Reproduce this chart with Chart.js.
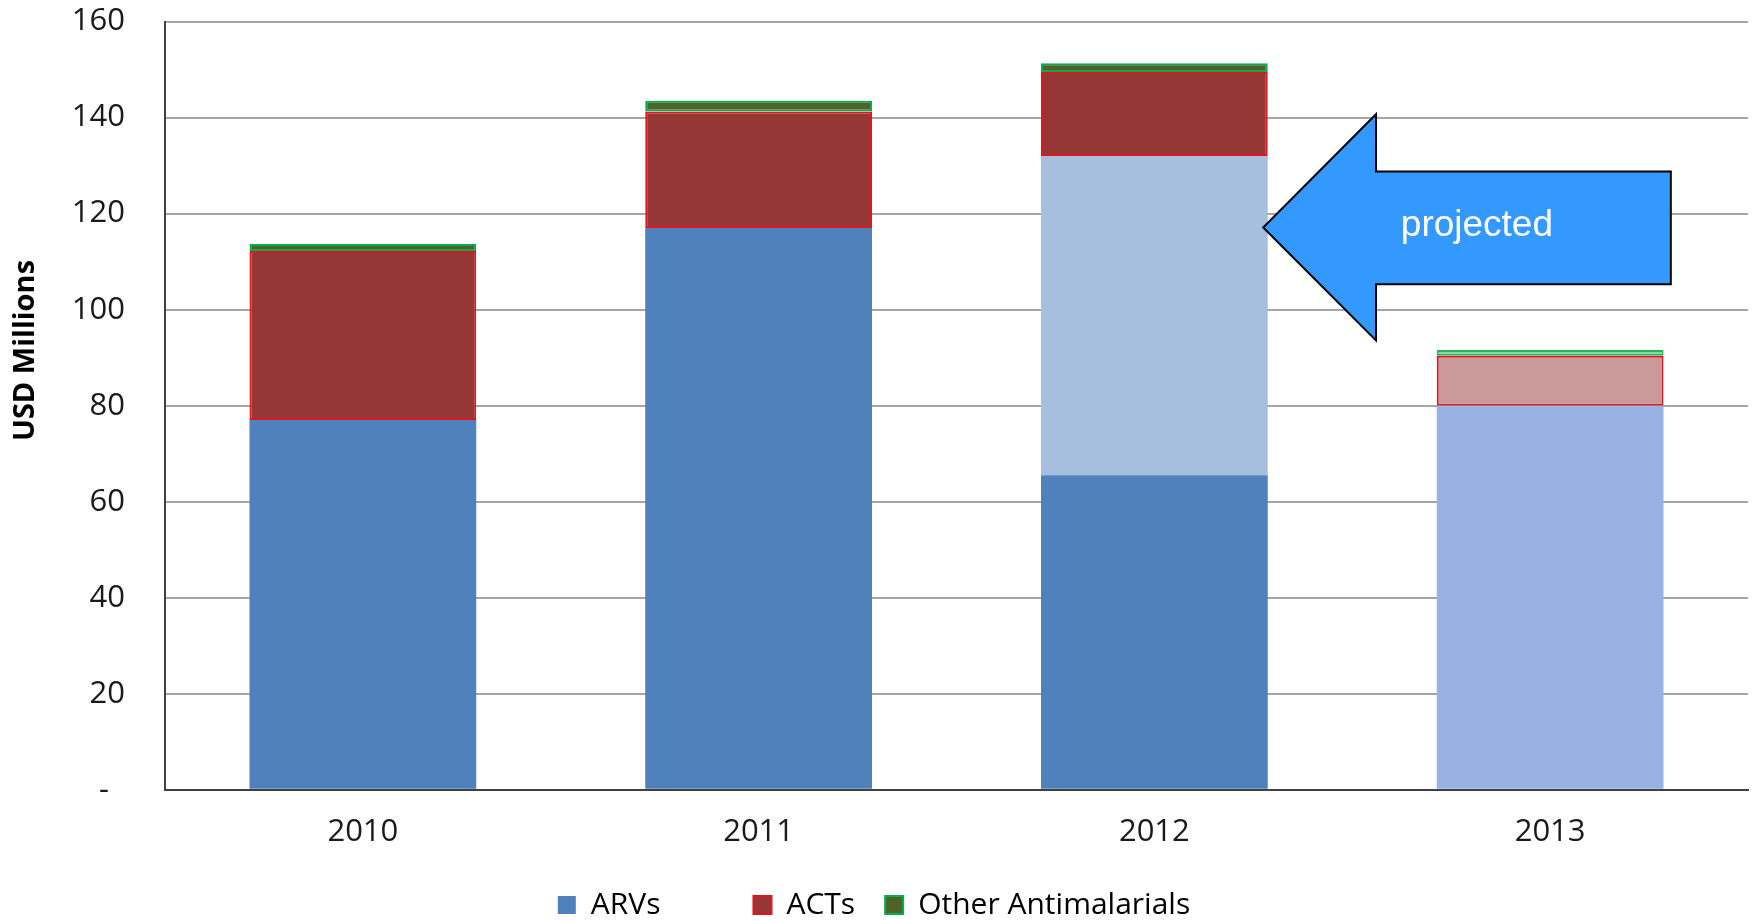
<!DOCTYPE html>
<html>
<head>
<meta charset="utf-8">
<title>USD Millions</title>
<script src="https://cdn.jsdelivr.net/npm/chart.js@4.4.0/dist/chart.umd.min.js"></script>
<style>
    html, body { margin: 0; padding: 0; background: #fff; }
    #wrap { width: 1752px; height: 921px; }
</style>
</head>
<body>
<div id="wrap"><canvas id="myChart"></canvas></div>
<script>
// values (USD millions)
const years = ['2010', '2011', '2012', '2013']
const arvs = [77, 117, 65.5, 80]
const arvsProjected = [0, 0, 66.5, 0]
const acts = [35.2, 24.3, 17.5, 10.4]
const otherAntimalarials = [1.5, 2.2, 1.8, 1.2]
const yTicks = [0, 20, 40, 60, 80, 100, 120, 140, 160]

const font = '"Open Sans", "Liberation Sans", sans-serif'

// big blue "projected" arrow, placed from the scales
const projectedArrow = {
    id: 'projectedArrow',
    afterDatasetsDraw(chart) {
        const x = chart.scales.x
        const y = chart.scales.y
        const step = x.getPixelForValue(1) - x.getPixelForValue(0)
        const cx = x.getPixelForValue(2)
        const tipX = cx + 0.275 * step
        const neckX = cx + 0.56 * step
        const endX = cx + 1.305 * step
        const ctx = chart.ctx
        ctx.save()
        ctx.beginPath()
        ctx.moveTo(tipX, y.getPixelForValue(117.1))
        ctx.lineTo(neckX, y.getPixelForValue(140.7))
        ctx.lineTo(neckX, y.getPixelForValue(128.8))
        ctx.lineTo(endX, y.getPixelForValue(128.8))
        ctx.lineTo(endX, y.getPixelForValue(105.3))
        ctx.lineTo(neckX, y.getPixelForValue(105.3))
        ctx.lineTo(neckX, y.getPixelForValue(93.6))
        ctx.closePath()
        ctx.fillStyle = '#3399FF'
        ctx.fill()
        ctx.lineWidth = 2
        ctx.strokeStyle = '#000'
        ctx.stroke()
        ctx.fillStyle = '#fff'
        ctx.font = '37px "Liberation Sans", Arial, sans-serif'
        ctx.textAlign = 'center'
        ctx.textBaseline = 'middle'
        ctx.fillText('projected', cx + 0.815 * step, y.getPixelForValue(117.4))
        ctx.restore()
    }
}

// axis title sits a bit above the middle in the original
const yTitle = {
    id: 'yTitle',
    afterDraw(chart) {
        const y = chart.scales.y
        const ctx = chart.ctx
        ctx.save()
        ctx.translate(y.left + 26, y.getPixelForValue(91.5))
        ctx.rotate(-Math.PI / 2)
        ctx.fillStyle = '#000'
        ctx.font = 'bold 29px ' + font
        ctx.textAlign = 'center'
        ctx.textBaseline = 'middle'
        ctx.fillText('USD Millions', 0, 0)
        ctx.restore()
    }
}

const data = {
    labels: years,
    datasets: [
        {
            label: 'ARVs',
            data: arvs,
            backgroundColor: ['#4F81BD', '#4F81BD', '#4F81BD', '#98B2E4'],
            borderWidth: 0
        },
        {
            label: '',
            data: arvsProjected,
            backgroundColor: '#A7BFDE',
            borderWidth: 0
        },
        {
            label: 'ACTs',
            data: acts,
            backgroundColor: ['#953735', '#953735', '#953735', '#CA9A9A'],
            borderColor: '#E0161E',
            borderWidth: 2,
            borderSkipped: false
        },
        {
            label: 'Other Antimalarials',
            data: otherAntimalarials,
            backgroundColor: ['#4F6228', '#4F6228', '#4F6228', '#80D99D'],
            borderColor: ['#00B050', '#00B050', '#00B050', '#2DB35E'],
            borderWidth: 2,
            borderSkipped: false
        }
    ]
}

const config = {
    type: 'bar',
    data: data,
    options: {
        responsive: true,
        maintainAspectRatio: false,
        animation: false,
        layout: {
            padding: { top: 0, right: 4, left: 0, bottom: 0 }
        },
        datasets: {
            bar: {
                barPercentage: 0.573,
                categoryPercentage: 1
            }
        },
        plugins: {
            tooltip: { enabled: false },
            legend: {
                position: 'bottom',
                maxHeight: 61,
                labels: {
                    color: '#111',
                    font: { family: font, size: 30 },
                    boxWidth: 18,
                    boxHeight: 18,
                    padding: 30,
                    generateLabels: () => [
                        { text: 'ARVs', fillStyle: '#4F81BD', strokeStyle: '#4F81BD', lineWidth: 0, datasetIndex: 0 },
                        { text: '', fillStyle: 'rgba(0,0,0,0)', strokeStyle: 'rgba(0,0,0,0)', lineWidth: 0, datasetIndex: 1 },
                        { text: 'ACTs', fillStyle: '#953735', strokeStyle: '#E0161E', lineWidth: 2, datasetIndex: 2 },
                        { text: 'Other Antimalarials', fillStyle: '#4F6228', strokeStyle: '#00B050', lineWidth: 2, datasetIndex: 3 }
                    ]
                }
            }
        },
        scales: {
            x: {
                stacked: true,
                grid: { color: 'transparent', tickColor: 'transparent', tickLength: 15 },
                border: { color: '#404040', width: 2 },
                ticks: {
                    color: '#1a1a1a',
                    font: { family: font, size: 31 },
                    padding: 9
                }
            },
            y: {
                stacked: true,
                min: 0,
                max: 160,
                afterBuildTicks: (axis) => {
                    axis.ticks = yTicks.map(v => ({ value: v }))
                },
                grid: { color: '#A6A6A6', lineWidth: 2, tickColor: 'transparent', tickLength: 37 },
                border: { color: '#404040', width: 2 },
                ticks: {
                    color: '#1a1a1a',
                    font: { family: font, size: 31 },
                    padding: 3,
                    callback: (value) => value === 0 ? '-  ' : value
                },
                // keeps the room for the title, drawn by the yTitle plugin
                title: {
                    display: true,
                    text: 'USD Millions',
                    color: 'rgba(0,0,0,0)',
                    font: { family: font, size: 29, weight: 'bold' },
                    padding: { top: 9, bottom: 25 }
                }
            }
        }
    },
    plugins: [projectedArrow, yTitle]
}

let chartCanvas = new Chart(document.querySelector('#myChart'), config)
</script>
</body>
</html>
